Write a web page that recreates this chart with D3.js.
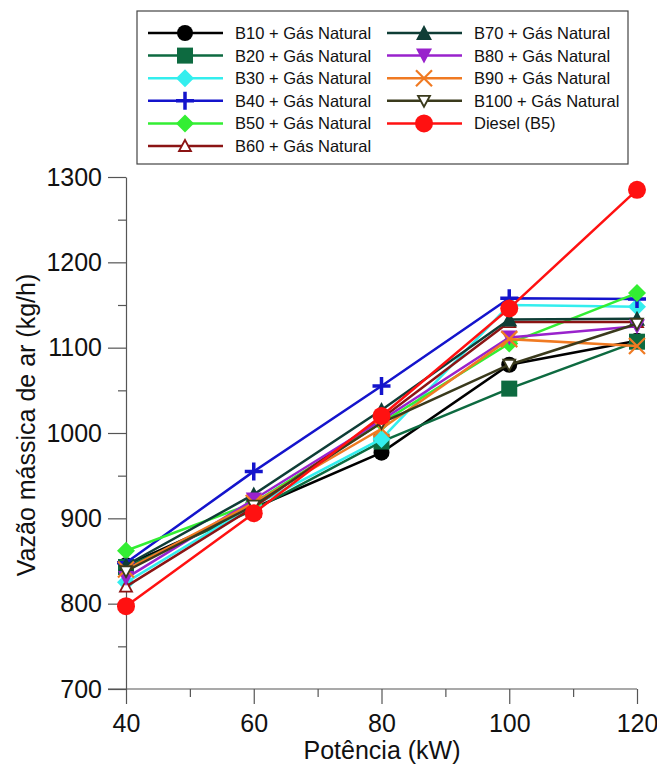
<!DOCTYPE html>
<html>
<head>
<meta charset="utf-8">
<script src="https://cdn.jsdelivr.net/npm/d3@7"></script>
<style>
  body { margin: 0; background: #fff; }
  svg, svg text { font-family: "Liberation Sans", Arial, sans-serif; }
</style>
</head>
<body>
<svg width="657" height="767"></svg>
<script>
// potencia (kW)
const potencia = [40, 60, 80, 100, 120];

// vazao massica de ar (kg/h)
const b10  = [845, 912, 977, 1080, 1108];
const b20  = [843, 910, 990, 1052, 1107];
const b30  = [825, 915, 993, 1150, 1148];
const b40  = [848, 955, 1055, 1158, 1157];
const b50  = [862, 918, 1012, 1105, 1164];
const b60  = [820, 913, 1017, 1130, 1130];
const b70  = [845, 928, 1027, 1133, 1134];
const b80  = [830, 922, 1015, 1112, 1125];
const b90  = [840, 918, 1005, 1110, 1102];
const b100 = [838, 915, 1012, 1080, 1128];
const diesel = [797, 906, 1020, 1146, 1285];

const nomes = ["B10 + Gás Natural", "B20 + Gás Natural", "B30 + Gás Natural", "B40 + Gás Natural",
  "B50 + Gás Natural", "B60 + Gás Natural", "B70 + Gás Natural", "B80 + Gás Natural",
  "B90 + Gás Natural", "B100 + Gás Natural", "Diesel (B5)"];
const valores = [b10, b20, b30, b40, b50, b60, b70, b80, b90, b100, diesel];
const cores = ["#000000", "#0d6a40", "#33eeee", "#1414cc", "#33ee33", "#8b1414",
  "#0f3d36", "#9922cc", "#f07a22", "#3a3a1c", "#ff1111"];
const marcadores = ["circle", "square", "diamond", "plus", "diamond", "triUpOpen",
  "triUp", "triDown", "x", "triDownOpen", "bigCircle"];

const yTicks = [700, 800, 900, 1000, 1100, 1200, 1300];
const xTicks = [40, 60, 80, 100, 120];

const svg = d3.select("svg");
const x = d3.scaleLinear().domain([40, 120]).range([126, 637]);
const y = d3.scaleLinear().domain([700, 1300]).range([689, 177]);
const axisColor = "#555";

// y axis
const gy = svg.append("g").attr("transform", "translate(126,0)")
  .call(d3.axisLeft(y).tickValues(yTicks).tickFormat(d3.format("d")).tickSize(18).tickPadding(6).tickSizeOuter(0));
svg.append("g").attr("transform", "translate(126,0)")
  .call(d3.axisLeft(y).tickValues(d3.range(750, 1300, 100)).tickSize(8).tickFormat("").tickSizeOuter(0))
  .select(".domain").remove();
gy.selectAll("text").style("font-size", "25px").attr("fill", "#111");

// x axis
const gx = svg.append("g").attr("transform", "translate(0,689)")
  .call(d3.axisBottom(x).tickValues(xTicks).tickFormat(d3.format("d")).tickSize(15).tickPadding(10).tickSizeOuter(0));
svg.append("g").attr("transform", "translate(0,689)")
  .call(d3.axisBottom(x).tickValues([50, 70, 90, 110]).tickSize(8).tickFormat("").tickSizeOuter(0))
  .select(".domain").remove();
gx.selectAll("text").style("font-size", "25px").attr("fill", "#111");
gx.select(".domain").attr("d", "M108,0H637");
svg.selectAll(".domain, .tick line").attr("stroke", axisColor).attr("stroke-width", 1.2);
svg.selectAll("g").attr("font-family", null);

svg.append("text").attr("x", 382).attr("y", 759).attr("text-anchor", "middle")
  .style("font-size", "25px").attr("fill", "#111").text("Potência (kW)");
svg.append("text").attr("transform", "translate(35,425) rotate(-90)").attr("text-anchor", "middle")
  .style("font-size", "25px").attr("fill", "#111").text("Vazão mássica de ar (kg/h)");

function marcador(g, tipo, cor, cx, cy) {
  const t = "translate(" + cx + "," + cy + ")";
  if (tipo === "circle" || tipo === "bigCircle") {
    g.append("circle").attr("cx", cx).attr("cy", cy).attr("r", tipo === "bigCircle" ? 9 : 8).attr("fill", cor);
  } else if (tipo === "square") {
    g.append("rect").attr("x", cx - 8).attr("y", cy - 8).attr("width", 16).attr("height", 16).attr("fill", cor);
  } else if (tipo === "diamond") {
    g.append("path").attr("transform", t).attr("d", "M0,-9L9,0L0,9L-9,0Z").attr("fill", cor);
  } else if (tipo === "plus") {
    g.append("path").attr("transform", t).attr("d", "M-9,0H9M0,-9V9").attr("stroke", cor).attr("stroke-width", 3.5);
  } else if (tipo === "x") {
    g.append("path").attr("transform", t).attr("d", "M-8,-8L8,8M-8,8L8,-8").attr("stroke", cor).attr("stroke-width", 2.2);
  } else if (tipo === "triUp") {
    g.append("path").attr("transform", t).attr("d", "M0,-8L8,7H-8Z").attr("fill", cor);
  } else if (tipo === "triDown") {
    g.append("path").attr("transform", t).attr("d", "M0,8L8,-7H-8Z").attr("fill", cor);
  } else if (tipo === "triUpOpen") {
    g.append("path").attr("transform", t).attr("d", "M0,-6L6,5H-6Z")
      .attr("fill", "#fff").attr("stroke", cor).attr("stroke-width", 1.8);
  } else {
    g.append("path").attr("transform", t).attr("d", "M0,6L6,-5H-6Z")
      .attr("fill", "#fff").attr("stroke", cor).attr("stroke-width", 1.8);
  }
}

const linha = d3.line().x((d, i) => x(potencia[i])).y(d => y(d));
const plot = svg.append("g");
valores.forEach(function (serie, k) {
  plot.append("path").attr("d", linha(serie)).attr("fill", "none")
    .attr("stroke", cores[k]).attr("stroke-width", 2.5);
  serie.forEach(function (v, i) {
    marcador(plot, marcadores[k], cores[k], x(potencia[i]), y(v));
  });
});

// legend
const leg = svg.append("g");
leg.append("rect").attr("x", 137).attr("y", 11).attr("width", 491).attr("height", 153)
  .attr("fill", "#fff").attr("stroke", "#444").attr("stroke-width", 1.2);
nomes.forEach(function (nome, k) {
  const col = k < 6 ? 0 : 1;
  const row = k < 6 ? k : k - 6;
  const x0 = col === 0 ? 148 : 387;
  const yy = 33 + row * 22.6;
  leg.append("line").attr("x1", x0).attr("x2", x0 + 75).attr("y1", yy).attr("y2", yy)
    .attr("stroke", cores[k]).attr("stroke-width", 2.5);
  marcador(leg, marcadores[k], cores[k], x0 + 37, yy);
  leg.append("text").attr("x", x0 + 87).attr("y", yy + 6).style("font-size", "16.5px")
    .attr("fill", "#111").text(nome);
});
</script>
</body>
</html>
